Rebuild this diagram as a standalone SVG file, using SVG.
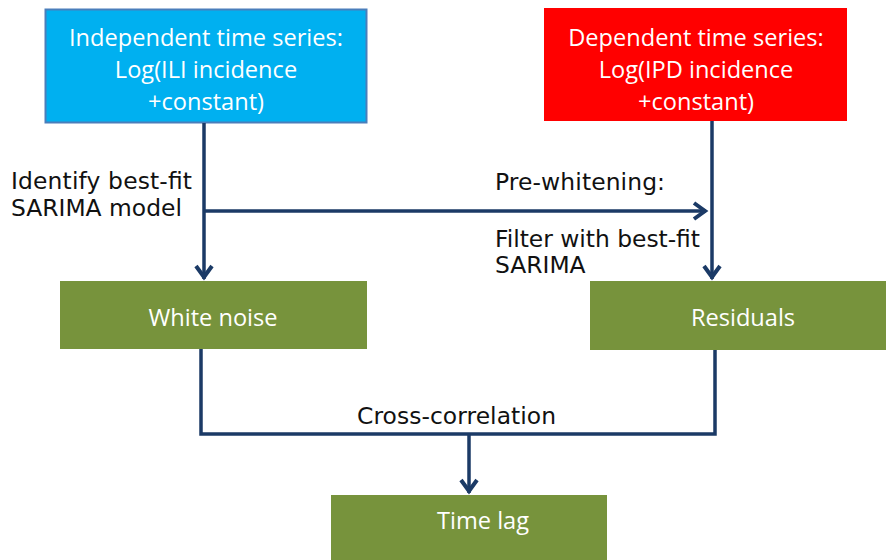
<svg xmlns="http://www.w3.org/2000/svg" width="886" height="560" viewBox="0 0 886 560">
<style>
.box text{font-family:"Open Sans","Liberation Sans",sans-serif;font-size:23.6px;fill:#fff;text-anchor:middle}
.lbl{font-family:"DejaVu Sans","Liberation Sans",sans-serif;font-size:23.4px;fill:#111}
.con{fill:none;stroke:#1b3a66;stroke-width:3.5}
.head{fill:none;stroke:#1b3a66;stroke-width:4;stroke-linejoin:miter}
</style>
<rect width="886" height="560" fill="#fff"/>
<g id="indep" class="box">
<rect x="45.5" y="9.5" width="321" height="113" fill="#00b0f0" stroke="#4a7ebb" stroke-width="2"/>
<text x="206" y="46">Independent time series:</text>
<text x="206" y="78">Log(ILI incidence</text>
<text x="206" y="110">+constant)</text>
</g>
<g id="dep" class="box">
<rect x="544" y="8" width="303" height="113" fill="#ff0000"/>
<text x="696" y="46">Dependent time series:</text>
<text x="696" y="78">Log(IPD incidence</text>
<text x="696" y="110">+constant)</text>
</g>
<g id="white" class="box">
<rect x="60" y="281" width="307" height="68" fill="#77933c"/>
<text x="213" y="326">White noise</text>
</g>
<g id="resid" class="box">
<rect x="590" y="281" width="300" height="69" fill="#77933c"/>
<text x="743" y="326">Residuals</text>
</g>
<g id="timelag" class="box">
<rect x="331" y="495" width="276" height="70" fill="#77933c"/>
<text x="483" y="529">Time lag</text>
</g>
<g id="connectors">
<path class="con" d="M204 123V279"/>
<polyline class="head" points="196,266 204,277 212,266"/>
<path class="con" d="M204 211H706"/>
<polyline class="head" points="694,203 705,211 694,219"/>
<path class="con" d="M712 121V279"/>
<polyline class="head" points="704,266 712,277 720,266"/>
<path class="con" d="M201 349V434H715V350"/>
<path class="con" d="M469 434V493"/>
<polyline class="head" points="461,480 469,491 477,480"/>
</g>
<g id="labels">
<text class="lbl" x="11" y="189" textLength="181">Identify best-fit</text>
<text class="lbl" x="11" y="216">SARIMA model</text>
<text class="lbl" x="495" y="190" textLength="170">Pre-whitening:</text>
<text class="lbl" x="495" y="247" textLength="205">Filter with best-fit</text>
<text class="lbl" x="495" y="273">SARIMA</text>
<text class="lbl" x="357" y="424" textLength="199">Cross-correlation</text>
</g>
</svg>
